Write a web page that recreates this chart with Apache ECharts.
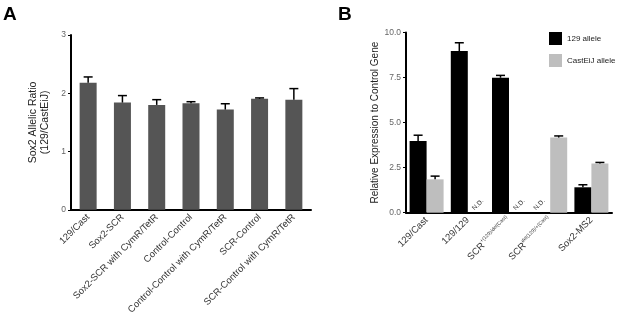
<!DOCTYPE html>
<html>
<head>
<meta charset="utf-8">
<script src="https://cdn.jsdelivr.net/npm/echarts@6/dist/echarts.min.js"></script>
<style>
    html, body { margin: 0; padding: 0; background: #fff; }
    #chart { width: 617px; height: 317px; }
</style>
</head>
<body>
<div id="chart"></div>
<script>
// panel A - allelic ratio
const catsA = ['129/Cast', 'Sox2-SCR', 'Sox2-SCR with CymR/TetR', 'Control-Control',
    'Control-Control with CymR/TetR', 'SCR-Control', 'SCR-Control with CymR/TetR']
const ratio = [2.18, 1.84, 1.80, 1.83, 1.72, 1.905, 1.89]
const ratioErr = [2.28, 1.96, 1.89, 1.855, 1.82, 1.92, 2.08]
const ticksA = ['0', '1', '2', '3']

// panel B - relative expression
const catsB = ['129/Cast', '129/129', 'SCR+(129)/del(Cast)', 'SCRdel(129)/+(Cast)', 'Sox2-MS2']
const allele129 = [3.98, 8.97, 7.49, 0, 1.41]
const allele129Err = [4.30, 9.43, 7.62, null, 1.55]
const alleleCast = [1.85, 0, 0, 4.17, 2.73]
const alleleCastErr = [2.03, null, null, 4.26, 2.79]
const nd129 = [false, false, false, true, false]
const ndCast = [false, true, true, false, false]

const font = 'Liberation Sans, Arial, sans-serif'
const barW = 17

// label formatter for the SCR superscripts
function labelB(v) {
    if (v === 'SCR+(129)/del(Cast)') return 'SCR{sup|+(129)/del(Cast)}'
    if (v === 'SCRdel(129)/+(Cast)') return 'SCR{sup|del(129)/+(Cast)}'
    return v
}

// error bars drawn upward only, with a cap
function errSeries(idx, vals, errs, offset) {
    return {
        type: 'custom',
        xAxisIndex: idx,
        yAxisIndex: idx,
        silent: true,
        z: 5,
        data: vals.map((v, i) => [i, v, errs[i]]).filter(d => d[2] != null),
        renderItem(params, api) {
            const base = api.coord([api.value(0), api.value(1)])
            const top = api.coord([api.value(0), api.value(2)])
            const x = base[0] + offset
            const cap = 4.5
            const style = { stroke: '#000', lineWidth: 1.5 }
            return {
                type: 'group',
                children: [
                    { type: 'line', shape: { x1: x, y1: base[1], x2: x, y2: top[1] }, style },
                    { type: 'line', shape: { x1: x - cap, y1: top[1], x2: x + cap, y2: top[1] }, style }
                ]
            }
        }
    }
}

// "N.D." text, slanted, sitting on the axis in the empty bar slot
function ndSeries(nd, offset) {
    return {
        type: 'custom',
        xAxisIndex: 1,
        yAxisIndex: 1,
        silent: true,
        z: 6,
        data: nd.map((f, i) => [i, 0, f]).filter(d => d[2]),
        renderItem(params, api) {
            const p = api.coord([api.value(0), 0])
            return {
                type: 'text',
                x: p[0] + offset,
                y: p[1] - 1,
                rotation: Math.PI / 4,
                style: {
                    text: 'N.D.',
                    x: 0,
                    y: 0,
                    align: 'left',
                    verticalAlign: 'bottom',
                    font: '6.5px ' + font,
                    fill: '#222'
                }
            }
        }
    }
}

const axisLineStyle = { show: true, lineStyle: { color: '#000', width: 2 } }

const myChart = echarts.init(document.getElementById('chart'))
const option = {
    backgroundColor: '#fff',
    animation: false,
    textStyle: { fontFamily: font },
    graphic: [
        { type: 'text', left: 3, top: 5, style: { text: 'A', font: 'bold 19px ' + font, fill: '#000' } },
        { type: 'text', left: 338, top: 5, style: { text: 'B', font: 'bold 19px ' + font, fill: '#000' } }
    ],
    legend: {
        orient: 'vertical',
        left: 549,
        top: 32,
        padding: 0,
        icon: 'rect',
        itemWidth: 13,
        itemHeight: 13,
        itemGap: 9,
        textStyle: { fontSize: 8, color: '#222', fontFamily: font },
        data: ['129 allele', 'CastEiJ allele']
    },
    grid: [
        { left: 71, top: 35, width: 240, height: 180 },
        { left: 406, top: 32.5, width: 206, height: 180.2 }
    ],
    xAxis: [
        {
            type: 'category',
            gridIndex: 0,
            data: catsA,
            axisLine: axisLineStyle,
            axisTick: { alignWithLabel: true, length: 3, lineStyle: { color: '#000' } },
            axisLabel: { rotate: 45, fontSize: 9.5, color: '#333', margin: 6, interval: 0 }
        },
        {
            type: 'category',
            gridIndex: 1,
            data: catsB,
            axisLine: axisLineStyle,
            axisTick: { alignWithLabel: true, length: 3, lineStyle: { color: '#000' } },
            axisLabel: {
                rotate: 45, fontSize: 9.5, color: '#333', margin: 6, interval: 0,
                formatter: labelB,
                rich: { sup: { fontSize: 5, color: '#333', padding: [0, 0, 7, 0] } }
            }
        }
    ],
    yAxis: [
        {
            type: 'value',
            gridIndex: 0,
            min: 0,
            max: 3,
            interval: 1,
            name: 'Sox2 Allelic Ratio\n(129/CastEiJ)',
            nameLocation: 'middle',
            nameGap: 20,
            nameTextStyle: { fontSize: 10.5, color: '#222', lineHeight: 12 },
            axisLine: axisLineStyle,
            axisTick: { show: true, length: 3, lineStyle: { color: '#000' } },
            axisLabel: { fontSize: 8.5, color: '#666', margin: 5, formatter: v => ticksA[v] },
            splitLine: { show: false }
        },
        {
            type: 'value',
            gridIndex: 1,
            min: 0,
            max: 10,
            interval: 2.5,
            name: 'Relative Expression to Control Gene',
            nameLocation: 'middle',
            nameGap: 26,
            nameTextStyle: { fontSize: 10, color: '#222' },
            axisLine: axisLineStyle,
            axisTick: { show: true, length: 3, lineStyle: { color: '#000' } },
            axisLabel: { fontSize: 8.5, color: '#666', margin: 5, formatter: v => v.toFixed(1) },
            splitLine: { show: false }
        }
    ],
    series: [
        {
            name: 'ratio',
            type: 'bar',
            xAxisIndex: 0,
            yAxisIndex: 0,
            barWidth: barW,
            itemStyle: { color: '#555' },
            data: ratio
        },
        errSeries(0, ratio, ratioErr, 0),
        {
            name: '129 allele',
            type: 'bar',
            xAxisIndex: 1,
            yAxisIndex: 1,
            barWidth: barW,
            barGap: '0%',
            itemStyle: { color: '#000' },
            data: allele129
        },
        {
            name: 'CastEiJ allele',
            type: 'bar',
            xAxisIndex: 1,
            yAxisIndex: 1,
            barWidth: barW,
            barGap: '0%',
            itemStyle: { color: '#bebebe' },
            data: alleleCast
        },
        errSeries(1, allele129, allele129Err, -barW / 2),
        errSeries(1, alleleCast, alleleCastErr, barW / 2),
        ndSeries(nd129, -barW + 4),
        ndSeries(ndCast, 8)
    ]
}
myChart.setOption(option)
</script>
</body>
</html>
